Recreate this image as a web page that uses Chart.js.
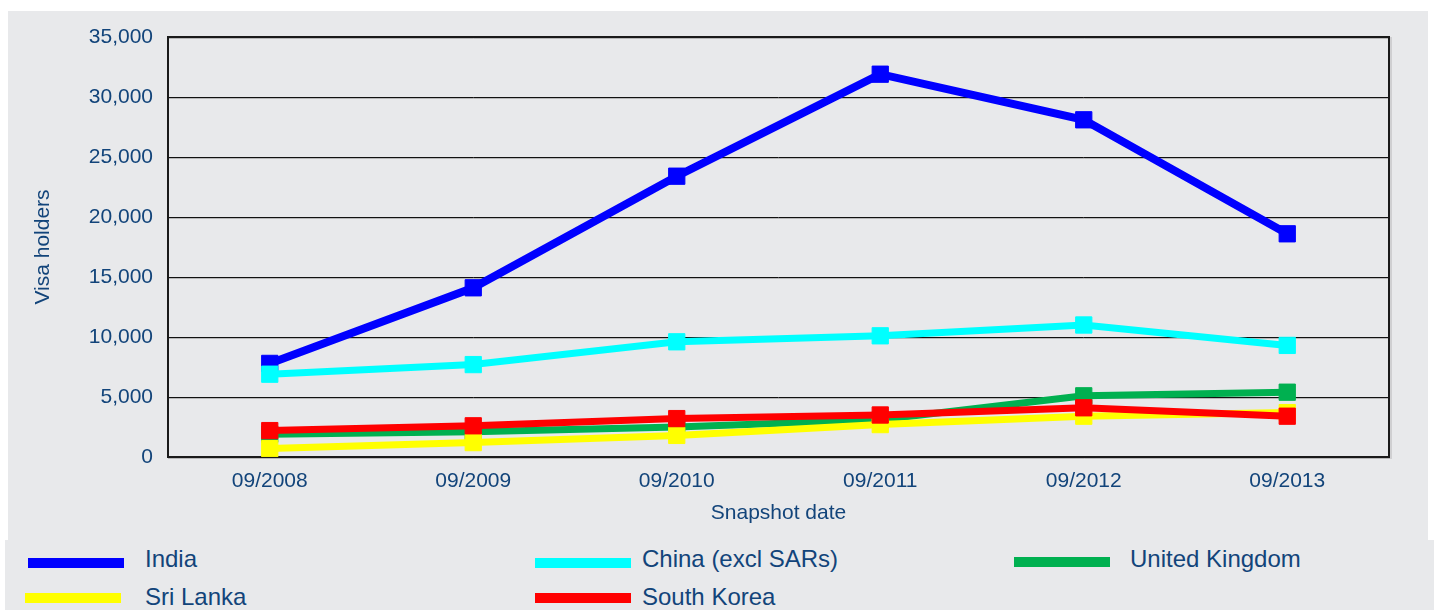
<!DOCTYPE html>
<html>
<head>
<meta charset="utf-8">
<script src="https://cdn.jsdelivr.net/npm/chart.js@4/dist/chart.umd.min.js"></script>
<style>
  html, body { margin: 0; padding: 0; background: #ffffff; width: 1434px; height: 610px; overflow: hidden; }
  #bg1 { position: absolute; left: 8px; top: 11px; width: 1420px; height: 530px; background: #e8e9eb; }
  #bg2 { position: absolute; left: 5px; top: 540px; width: 1429px; height: 70px; background: #e8e9eb; }
  #wrap { position: absolute; left: 0; top: 0; width: 1434px; height: 540px; }
  .lg-line { position: absolute; width: 96px; height: 10px; }
  .lg-text { position: absolute; font-family: "Liberation Sans", Arial, sans-serif; font-size: 24px; line-height: 24px; color: #12447a; white-space: nowrap; }
</style>
</head>
<body>
<div id="bg1"></div>
<div id="bg2"></div>
<div id="wrap"><canvas id="c" width="1434" height="540"></canvas></div>
<div id="legend"></div>
<script>
const categories = ["09/2008", "09/2009", "09/2010", "09/2011", "09/2012", "09/2013"];
const seriesNames = ["India", "China (excl SARs)", "United Kingdom", "Sri Lanka", "South Korea"];
const india = [7800, 14100, 23400, 31900, 28100, 18600];
const china = [6900, 7700, 9600, 10100, 11000, 9300];
const unitedKingdom = [1900, 2100, 2500, 3100, 5100, 5400];
const sriLanka = [700, 1200, 1800, 2700, 3400, 3700];
const southKorea = [2200, 2600, 3200, 3500, 4100, 3400];
const yTicks = [0, 5000, 10000, 15000, 20000, 25000, 30000, 35000];

const seriesValues = [india, china, unitedKingdom, sriLanka, southKorea];
const seriesColors = ["#0000ff", "#00ffff", "#00b050", "#ffff00", "#ff0000"];
const lineWidths = [8, 7, 7, 7, 7];
const drawOrder = [5, 4, 3, 2, 1];
const textColor = "#12447a";
const axisFont = { family: "'Liberation Sans', Arial, sans-serif", size: 21 };

const datasets = seriesNames.map((name, i) => ({
  label: name,
  data: seriesValues[i],
  borderColor: seriesColors[i],
  backgroundColor: seriesColors[i],
  borderWidth: lineWidths[i],
  pointStyle: 'rect',
  pointRadius: 11.5,
  pointBorderWidth: 1,
  pointBorderColor: seriesColors[i],
  pointBackgroundColor: seriesColors[i],
  tension: 0,
  order: drawOrder[i]
}));

const framePlugin = {
  id: 'frame',
  beforeDatasetsDraw(chart) {
    const { ctx, chartArea: a } = chart;
    ctx.save();
    ctx.strokeStyle = 'rgba(150,150,150,0.6)';
    ctx.lineWidth = 1;
    const ys = chart.scales.y;
    yTicks.forEach(v => {
      const py = Math.round(ys.getPixelForValue(v)) + 1.5;
      ctx.beginPath(); ctx.moveTo(a.left, py); ctx.lineTo(a.right + 1, py); ctx.stroke();
    });
    ctx.beginPath(); ctx.moveTo(a.right + 2, a.top); ctx.lineTo(a.right + 2, a.bottom + 2); ctx.stroke();
    ctx.strokeStyle = '#1a1a1a';
    ctx.lineWidth = 2;
    ctx.strokeRect(a.left, a.top, a.right - a.left, a.bottom - a.top);
    ctx.restore();
  }
};

new Chart(document.getElementById('c'), {
  type: 'line',
  data: { labels: categories, datasets },
  plugins: [framePlugin],
  options: {
    responsive: false,
    animation: false,
    devicePixelRatio: 1,
    layout: { padding: { left: 27, top: 37, right: 45, bottom: 10 } },
    plugins: { legend: { display: false }, tooltip: { enabled: false } },
    elements: { line: { borderCapStyle: 'butt', borderJoinStyle: 'miter' } },
    scales: {
      x: {
        offset: true,
        grid: { display: false, drawTicks: false },
        border: { display: false },
        ticks: { color: textColor, font: axisFont, padding: 12, maxRotation: 0, autoSkip: false },
        title: { display: true, text: 'Snapshot date', color: textColor, font: axisFont, padding: { top: 4, bottom: 4 } },
        afterFit(scale) { scale.height = 73; }
      },
      y: {
        min: 0, max: 35000,
        afterBuildTicks(scale) { scale.ticks = yTicks.map(v => ({ value: v })); },
        grid: { color: '#111111', lineWidth: 1, drawTicks: false },
        border: { display: false },
        ticks: {
          color: textColor, padding: 15, font: axisFont,
          callback: v => v.toLocaleString('en-US')
        },
        title: { display: true, text: 'Visa holders', color: textColor, font: axisFont, padding: { top: 4, bottom: 4 } },
        afterFit(scale) { scale.width = 141; }
      }
    }
  }
});

const legendPos = [
  { lx: 28, ly: 558, tx: 145, ty: 547 },
  { lx: 535, ly: 558, tx: 642, ty: 547 },
  { lx: 1014, ly: 557, tx: 1130, ty: 547 },
  { lx: 25, ly: 593, tx: 145, ty: 585 },
  { lx: 535, ly: 593, tx: 642, ty: 585 }
];
const legendEl = document.getElementById('legend');
seriesNames.forEach((name, i) => {
  const p = legendPos[i];
  const line = document.createElement('div');
  line.className = 'lg-line';
  line.style.left = p.lx + 'px'; line.style.top = p.ly + 'px';
  line.style.background = seriesColors[i];
  const txt = document.createElement('div');
  txt.className = 'lg-text';
  txt.style.left = p.tx + 'px'; txt.style.top = p.ty + 'px';
  txt.textContent = name;
  legendEl.appendChild(line); legendEl.appendChild(txt);
});
</script>
</body>
</html>
